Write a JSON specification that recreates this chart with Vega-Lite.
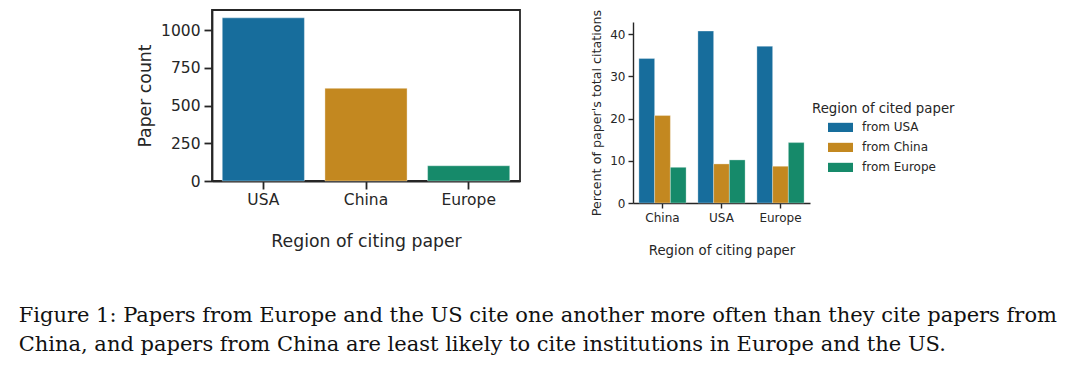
{
  "$schema": "https://vega.github.io/schema/vega-lite/v6.json",
  "padding": {"left": 18, "top": 9, "right": 0, "bottom": 0},
  "background": "white",
  "datasets": {
    "counts": [
      {"region": "USA", "count": 1081},
      {"region": "China", "count": 614},
      {"region": "Europe", "count": 101}
    ],
    "cites": [
      {"citing": "China", "cited": "from USA", "percent": 34.2},
      {"citing": "China", "cited": "from China", "percent": 20.7},
      {"citing": "China", "cited": "from Europe", "percent": 8.45},
      {"citing": "USA", "cited": "from USA", "percent": 40.7},
      {"citing": "USA", "cited": "from China", "percent": 9.25},
      {"citing": "USA", "cited": "from Europe", "percent": 10.2},
      {"citing": "Europe", "cited": "from USA", "percent": 37.1},
      {"citing": "Europe", "cited": "from China", "percent": 8.7},
      {"citing": "Europe", "cited": "from Europe", "percent": 14.3}
    ],
    "empty": []
  },
  "title": {
    "text": ["Figure 1: Papers from Europe and the US cite one another more often than they cite papers from", "China, and papers from China are least likely to cite institutions in Europe and the US."],
    "orient": "bottom",
    "anchor": "start",
    "dx": -117,
    "offset": 49,
    "font": "DejaVu Serif",
    "fontSize": 21,
    "fontWeight": "normal",
    "lineHeight": 29,
    "color": "#111111"
  },
  "spacing": 69,
  "hconcat": [
    {
      "width": 308,
      "height": 171,
      "data": {"name": "counts"},
      "view": {"stroke": "#262626", "strokeWidth": 1.8},
      "mark": {"type": "bar", "stroke": "white", "strokeWidth": 0.6, "strokeOpacity": 0.6},
      "encoding": {
        "x": {
          "field": "region", "type": "nominal", "sort": ["USA", "China", "Europe"],
          "scale": {"paddingInner": 0.2, "paddingOuter": 0.1},
          "axis": {"title": "Region of citing paper", "labelAngle": 0, "labelFontSize": 15.5, "titleFontSize": 17.3, "tickSize": 8, "tickWidth": 1.8, "domainWidth": 1.8, "labelPadding": 3, "titlePadding": 25}
        },
        "y": {
          "field": "count", "type": "quantitative",
          "scale": {"domain": [0, 1133], "nice": false},
          "axis": {"title": "Paper count", "values": [0, 250, 500, 750, 1000], "format": "d", "labelFontSize": 15.5, "titleFontSize": 17.3, "tickSize": 8, "tickWidth": 1.8, "domainWidth": 1.8, "labelPadding": 4, "titlePadding": 6}
        },
        "color": {
          "field": "region", "type": "nominal",
          "scale": {"domain": ["USA", "China", "Europe"], "range": ["#176d9c", "#c38820", "#168a6a"]},
          "legend": null
        }
      }
    },
    {
      "spacing": -2,
      "vconcat": [
        {
          "width": 177,
          "height": 1,
          "data": {"name": "empty"},
          "view": {"stroke": null},
          "mark": "point",
          "encoding": {}
        },
        {
          "width": 177,
          "height": 181,
          "data": {"name": "cites"},
          "view": {"stroke": null},
          "mark": {"type": "bar", "stroke": "white", "strokeWidth": 0.5, "strokeOpacity": 0.6},
          "encoding": {
            "x": {
              "field": "citing", "type": "nominal", "sort": ["China", "USA", "Europe"],
              "scale": {"paddingInner": 0.2, "paddingOuter": 0.1},
              "axis": {"title": "Region of citing paper", "labelAngle": 0, "labelFontSize": 12, "titleFontSize": 13.3, "tickSize": 5, "tickWidth": 1.4, "domainWidth": 1.4, "labelPadding": 4, "titlePadding": 20}
            },
            "xOffset": {
              "field": "cited", "type": "nominal", "sort": ["from USA", "from China", "from Europe"],
              "scale": {"paddingInner": 0, "paddingOuter": 0}
            },
            "y": {
              "field": "percent", "type": "quantitative",
              "scale": {"domain": [0, 42.85], "nice": false},
              "axis": {"title": "Percent of paper's total citations", "values": [0, 10, 20, 30, 40], "labelFontSize": 12, "titleFontSize": 12.7, "tickSize": 5, "tickWidth": 1.4, "domainWidth": 1.4, "labelPadding": 3, "titlePadding": 6}
            },
            "color": {
              "field": "cited", "type": "nominal",
              "scale": {"domain": ["from USA", "from China", "from Europe"], "range": ["#176d9c", "#c38820", "#168a6a"]},
              "legend": {
                "title": "Region of cited paper",
                "orient": "none",
                "legendX": 179,
                "legendY": 80,
                "titleFontSize": 13.3,
                "titleFontWeight": "normal",
                "titlePadding": 7,
                "labelFontSize": 12,
                "symbolType": "M-1,-0.37H1V0.37H-1Z",
                "symbolSize": 625,
                "symbolOffset": 16,
                "symbolStrokeWidth": 0,
                "symbolOpacity": 1,
                "clipHeight": 10,
                "rowPadding": 8,
                "labelOffset": 9,
                "padding": 0
              }
            }
          }
        }
      ],
      "resolve": {"scale": {"color": "independent"}, "legend": {"color": "independent"}}
    }
  ],
  "resolve": {"scale": {"color": "independent"}, "legend": {"color": "independent"}},
  "config": {
    "font": "DejaVu Sans",
    "axis": {
      "grid": false,
      "labelFont": "DejaVu Sans",
      "titleFont": "DejaVu Sans",
      "titleFontWeight": "normal",
      "labelColor": "#262626",
      "titleColor": "#262626",
      "domainColor": "#262626",
      "tickColor": "#262626"
    },
    "legend": {
      "labelFont": "DejaVu Sans",
      "titleFont": "DejaVu Sans",
      "labelColor": "#262626",
      "titleColor": "#262626"
    }
  }
}
